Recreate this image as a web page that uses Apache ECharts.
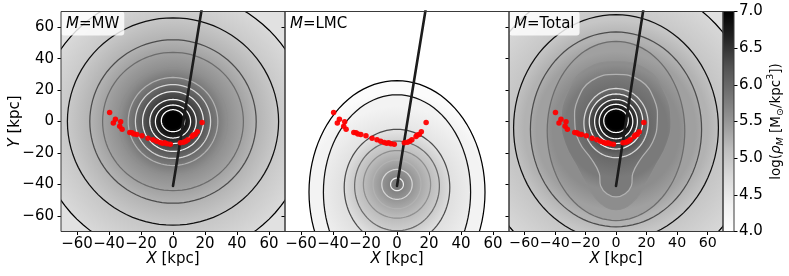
<!DOCTYPE html>
<html><head><meta charset="utf-8">
<script src="https://cdn.jsdelivr.net/npm/echarts@6/dist/echarts.min.js"></script>
<style>html,body{margin:0;padding:0;background:#fff}#c{width:789px;height:276px}</style>
</head><body><div id="c"></div>
<script>
// ---------- data ----------
const axisTicks = [-60, -40, -20, 0, 20, 40, 60];
const panelNames = ['MW', 'LMC', 'Total'];
// contour levels (log density) per panel, outer -> inner
const mwLevels    = [4.75, 4.98, 5.22, 5.38, 5.58, 5.8, 5.98, 6.2, 6.42, 6.62, 6.85];
const lmcLevels   = [4.1, 4.3, 4.62, 4.92, 5.12, 5.32, 5.52, 5.72];
const totalLevels = [4.77, 5.0, 5.23, 5.4, 5.6, 5.8, 5.98, 6.2, 6.42, 6.62, 6.85];
// ring: [contourIndex, centreX, centreY, radiusX, radiusY]  or [contourIndex, centreX, centreY, [[x,y],...]]
const mwRings = [
  [0, 0, -2, 85, 85], [1, 0, 0, 66, 66], [2, 0, 0, 52, 52], [3, 0, 0, 44, 44],
  [4, 0, 0, 34, 34], [5, 0, 0, 28, 28], [6, 0, 0, 23.5, 23.5], [7, 0, 0, 19, 19],
  [8, 0, 0, 14.5, 14], [9, 0, 0, 11, 10.5], [10, 0, 0.5, 7.3, 7]
];
const lmcRings = [
  [0, 0, -45, 55, 71], [1, 0, -45, 46, 62], [2, 0, -42, 33, 37], [3, 0, -41, 26.5, 28.5],
  [4, 0, -40, 21, 21.5], [5, 0, -40, 15, 15.5], [6, 0, -40, 9.5, 9.5], [7, 0, -40, 4, 4]
];
const totalPear5 = [[0,38],[20,33],[32,18],[36,0],[33,-15],[26,-28],[18,-42],[10,-52],[0,-56],[-10,-52],[-18,-42],[-26,-28],[-33,-15],[-36,0],[-32,18],[-20,33]];
const totalPear6 = [[0,30],[16,26],[25,14],[27,0],[24,-13],[16,-24],[11,-33],[10,-41],[6,-46],[0,-48],[-6,-46],[-10,-41],[-11,-33],[-16,-24],[-24,-13],[-27,0],[-25,14],[-16,26]];
const totalRings = [
  [0, 0, -5, 92, 95], [1, 0, -4, 67, 72], [2, 0, -5, 56, 62], [3, 0, -6, 45, 57],
  [4, 0, -4, totalPear5], [5, 0, -3, totalPear6], [6, 0, -1, 21, 22], [7, 0, 0, 17.5, 17.5],
  [8, 0, 0, 14, 14], [9, 0, 0, 11, 11], [10, 0, 0.5, 8, 7.5]
];
const outsideLevel = [4.62, 3.9, 4.64];
const coreLevel = [7.1, 5.82, 7.1];
// LMC orbit
const orbit = [[0, -41], [6.5, 0], [17.7, 70], [18.5, 76]];
// red points
const redPts = [[-39.6,5.7],[-36,1.5],[-37.3,-1],[-32.7,-0.2],[-33.3,-3],[-31.8,-4.9],[-27,-7],[-25.6,-7.2],[-24.4,-7.9],[-22.6,-8.2],[-19.4,-9.1],[-15.6,-10.7],[-12.5,-11.6],[-10.2,-12.5],[-8,-13.4],[-6.5,-13.8],[-5.2,-13.6],[-3.8,-14.2],[-1.7,-14.4],[4.6,-13.6],[6.6,-13.2],[8,-12.6],[9.3,-11.6],[11.9,-9.5],[12.6,-8.6],[13.9,-8.2],[15.2,-6.6],[18.2,-0.6]];
const cbMin = 4, cbMax = 7, cbStep = 0.5;

// ---------- helpers ----------
const GREYS = ['#ffffff','#f0f0f0','#d9d9d9','#bdbdbd','#969696','#737373','#525252','#252525','#000000'];
function hex(c){return [1,3,5].map(i=>parseInt(c.slice(i,i+2),16));}
function greys(v){let t=(v-4)/3;t=Math.max(0,Math.min(1,t));const p=t*8;const i=Math.min(7,Math.floor(p));const f=p-i;const a=hex(GREYS[i]),b=hex(GREYS[i+1]);return 'rgb('+a.map((x,k)=>Math.round(x+(b[k]-x)*f)).join(',')+')';}
const lineColors = ['#000000','#101010','#4c4c4c','#6c6c6c','#8e8e8e','#b2b2b2','#d6d6d6','#eeeeee','#f8f8f8','#ffffff','#ffffff'];
const FONT = 'DejaVu Sans';
const FS = 15;
const xLabelSize = [15, 15, 14.2];
const panelLevels=[mwLevels,lmcLevels,totalLevels];

function ringPts(r, api){
  if (Array.isArray(r[3])) return r[3].map(p=>api.coord(p));
  const out=[];
  for(let k=0;k<96;k++){const t=2*Math.PI*k/96;out.push(api.coord([r[1]+r[3]*Math.cos(t), r[2]+r[4]*Math.sin(t)]));}
  return out;
}
function meanR(pts,c){let s=0;pts.forEach(p=>{s+=Math.hypot(p[0]-c[0],p[1]-c[1]);});return s/pts.length;}

function fillSeries(gi, rings, pi){
  const lv=panelLevels[pi];
  return {type:'custom', xAxisIndex:gi, yAxisIndex:gi, clip:true, z:1, silent:true, animation:false,
    data: rings.map(r=>[r[1],r[2]]),
    renderItem(params, api){
      const i=params.dataIndex, r=rings[i];
      const pts=ringPts(r,api), c=api.coord([r[1],r[2]]), rad=meanR(pts,c);
      const nx=rings[i+1];
      let inner, off;
      if(nx){const np=ringPts(nx,api);off=meanR(np,api.coord([nx[1],nx[2]]))/rad;inner=greys(lv[nx[0]]);}
      else {off=0.7;inner=greys(coreLevel[pi]);}
      off=Math.min(off,0.98);
      const fill=new echarts.graphic.RadialGradient(c[0],c[1],rad,[{offset:0,color:inner},{offset:off,color:inner},{offset:1,color:greys(lv[r[0]])}],true);
      return {type:'polygon', shape:{points:pts, smooth:Array.isArray(r[3])?0.45:0}, style:{fill:fill, stroke:null}};
    }};
}
function lineSeries(gi, rings){
  return {type:'custom', xAxisIndex:gi, yAxisIndex:gi, clip:true, z:3, silent:true, animation:false,
    data: rings.map(r=>[r[1],r[2]]),
    renderItem(params, api){
      const r=rings[params.dataIndex];
      return {type:'polygon', shape:{points:ringPts(r,api), smooth:Array.isArray(r[3])?0.45:0}, style:{fill:null, stroke:lineColors[r[0]], lineWidth:1.25}};
    }};
}
function bgSeries(gi, pi){
  return {type:'custom', xAxisIndex:gi, yAxisIndex:gi, z:0, silent:true, animation:false, data:[[0,0]],
    renderItem(params, api){const cs=params.coordSys;return {type:'rect', shape:{x:cs.x,y:cs.y,width:cs.width,height:cs.height}, style:{fill:greys(outsideLevel[pi])}};}};
}
function borderSeries(gi){
  return {type:'custom', xAxisIndex:gi, yAxisIndex:gi, z:20, silent:true, animation:false, data:[[0,0]],
    renderItem(params, api){const cs=params.coordSys;return {type:'rect', shape:{x:cs.x,y:cs.y,width:cs.width,height:cs.height}, style:{fill:null, stroke:'#3a3a3a', lineWidth:1}};}};
}
const fmt = v => (v<0?'\u2212'+Math.abs(v):String(v));
const panelRings=[mwRings,lmcRings,totalRings];
const grids=[
  {left:61, top:11.5, width:224, height:220},
  {left:285, top:11.5, width:224, height:220},
  {left:509, top:11.5, width:214, height:220},
  {left:723, top:11.5, width:11, height:220}
];
const xAxes=[], yAxes=[], series=[];
const richXY = {i:{fontStyle:'italic', fontWeight:'normal', fontFamily:FONT, fontSize:FS, color:'#000'}, n:{fontWeight:'normal', fontFamily:FONT, fontSize:FS, color:'#000'}};
for(let g=0; g<3; g++){
  xAxes.push({type:'value', gridIndex:g, min:-70, max:70, axisLine:{show:false, onZero:false}, splitLine:{show:false},
    axisTick:{show:true, length:3.5, customValues:axisTicks, lineStyle:{color:'#000', width:1}},
    axisLabel:{show:true, customValues:axisTicks, hideOverlap:false, formatter:fmt, margin:5, fontFamily:FONT, fontSize:xLabelSize[g], color:'#000'},
    name:'{i|X}{n| [kpc]}', nameLocation:'middle', nameGap:20.5, nameMoveOverlap:false, nameTextStyle:{rich:richXY}});
  yAxes.push({type:'value', gridIndex:g, min:-70, max:70, axisLine:{show:false, onZero:false}, splitLine:{show:false},
    axisTick:{show:true, length:3.5, customValues:axisTicks, lineStyle:{color:'#000', width:1}},
    axisLabel:{show:g===0, customValues:axisTicks, formatter:fmt, margin:7, fontFamily:FONT, fontSize:FS, color:'#000'}});
  series.push(bgSeries(g,g), fillSeries(g, panelRings[g], g), lineSeries(g, panelRings[g]));
  series.push({type:'line', xAxisIndex:g, yAxisIndex:g, data:orbit, symbol:'none', z:5, animation:false, silent:true,
    lineStyle:{color:'#1c1c1c', width:2.6, cap:'round'}});
  series.push({type:'scatter', xAxisIndex:g, yAxisIndex:g, data:redPts, symbolSize:5.5, z:6, animation:false, silent:true,
    itemStyle:{color:'#ff0000', opacity:0.95}});
  series.push(borderSeries(g));
}
// colorbar
xAxes.push({type:'value', gridIndex:3, min:0, max:1, show:false});
yAxes.push({type:'value', gridIndex:3, min:cbMin, max:cbMax, interval:cbStep, position:'right', axisLine:{show:false, onZero:false}, splitLine:{show:false},
  axisTick:{show:true, length:3.5, lineStyle:{color:'#000', width:1}},
  axisLabel:{margin:5, formatter:v=>v.toFixed(1), fontFamily:FONT, fontSize:FS, color:'#000'}});
series.push({type:'custom', xAxisIndex:3, yAxisIndex:3, z:1, silent:true, animation:false, data:[[0,cbMin]],
  renderItem(params, api){
    const a=api.coord([0,cbMax]), b=api.coord([1,cbMin]);
    const stops=GREYS.map((c,k)=>({offset:k/8, color:GREYS[8-k]}));
    return {type:'rect', shape:{x:a[0], y:a[1], width:b[0]-a[0], height:b[1]-a[1]}, style:{fill:new echarts.graphic.LinearGradient(0,0,0,1,stops)}};
  }});
series.push(borderSeries(3));

const titles = panelNames.map((n,g)=>({left:grids[g].left, top:grids[g].top, text:'{i|M}{n|='+n+'}',
  textStyle:{fontWeight:'normal', rich:richXY}, backgroundColor:'rgba(255,255,255,0.82)', borderRadius:3, padding:[5,5,4,5]}));

const CBF = 13.5, CBS = 9.5;
const chart = echarts.init(document.getElementById('c'), null, {renderer:'canvas'});
chart.setOption({
  animation:false,
  title: titles,
  grid: grids,
  xAxis: xAxes,
  yAxis: yAxes,
  series: series,
  graphic: [
    {type:'text', x:15, y:121.5, rotation:Math.PI/2, style:{text:'{i|Y}{n| [kpc]}', rich:richXY, align:'center', verticalAlign:'middle'}},
    {type:'text', x:776, y:121.5, rotation:Math.PI/2, style:{
      text:'{n|log(}{i|\u03c1}{si|M}{n| [M}{s|\u2299}{n|/kpc}{p|3}{n|])}',
      rich:{
        n:{fontFamily:FONT, fontSize:CBF, color:'#000', lineHeight:20, verticalAlign:'middle'},
        i:{fontFamily:FONT, fontStyle:'italic', fontSize:CBF, color:'#000', lineHeight:20, verticalAlign:'middle'},
        si:{fontFamily:FONT, fontStyle:'italic', fontSize:CBS, color:'#000', lineHeight:20, verticalAlign:'bottom'},
        s:{fontFamily:FONT, fontSize:CBS, color:'#000', lineHeight:20, verticalAlign:'bottom'},
        p:{fontFamily:FONT, fontSize:CBS, color:'#000', lineHeight:20, verticalAlign:'top'}
      }, align:'center', verticalAlign:'middle'}}
  ]
});
</script></body></html>
